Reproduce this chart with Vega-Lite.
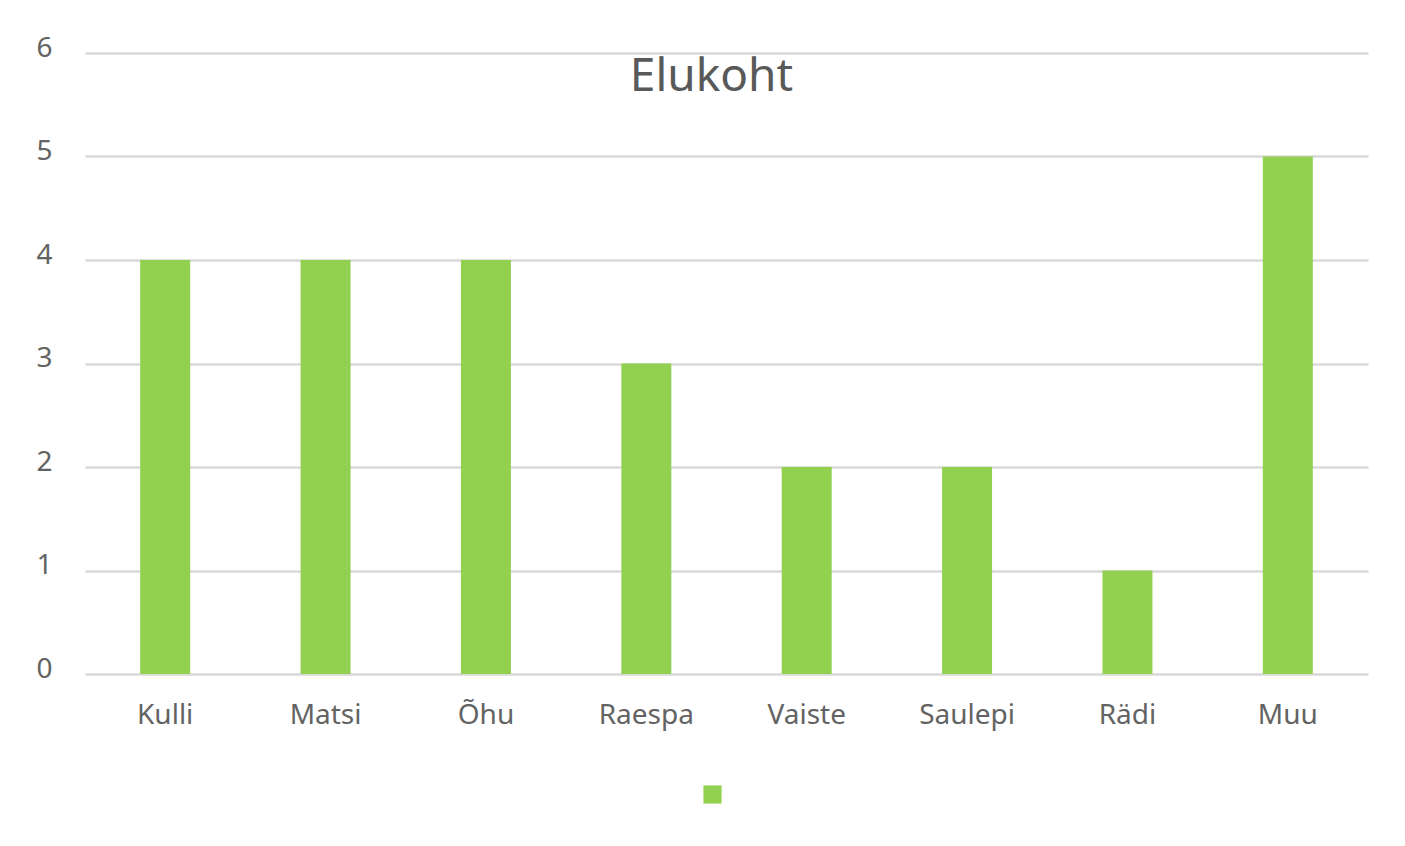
{
  "$schema": "https://vega.github.io/schema/vega-lite/v6.json",
  "width": 1283,
  "height": 621,
  "autosize": {"type": "none"},
  "padding": {"left": 85, "top": 53, "right": 37, "bottom": 172},
  "background": "white",
  "title": {
    "text": "Elukoht",
    "fontSize": 46,
    "font": "Noto Sans",
    "fontWeight": "normal",
    "color": "#595959",
    "anchor": "middle",
    "baseline": "top",
    "offset": -67,
    "dx": -15
  },
  "data": {
    "values": [
      {"koht": "Kulli", "arv": 4, "seeria": ""},
      {"koht": "Matsi", "arv": 4, "seeria": ""},
      {"koht": "Õhu", "arv": 4, "seeria": ""},
      {"koht": "Raespa", "arv": 3, "seeria": ""},
      {"koht": "Vaiste", "arv": 2, "seeria": ""},
      {"koht": "Saulepi", "arv": 2, "seeria": ""},
      {"koht": "Rädi", "arv": 1, "seeria": ""},
      {"koht": "Muu", "arv": 5, "seeria": ""}
    ]
  },
  "mark": {"type": "bar", "size": 50},
  "encoding": {
    "x": {
      "field": "koht",
      "type": "nominal",
      "sort": null,
      "scale": {"paddingInner": 0, "paddingOuter": 0},
      "axis": {
        "title": null,
        "labelAngle": 0,
        "domain": false,
        "ticks": false,
        "labelFont": "Noto Sans",
        "labelFontSize": 28,
        "labelColor": "#636363",
        "labelPadding": 27
      }
    },
    "y": {
      "field": "arv",
      "type": "quantitative",
      "scale": {"domain": [0, 6]},
      "axis": {
        "title": null,
        "values": [0, 1, 2, 3, 4, 5, 6],
        "domain": false,
        "ticks": false,
        "gridColor": "#D9D9D9",
        "gridWidth": 2.5,
        "labelFont": "Noto Sans",
        "labelFontSize": 28,
        "labelColor": "#636363",
        "labelPadding": 33,
        "labelOffset": -5
      }
    },
    "color": {
      "field": "seeria",
      "type": "nominal",
      "scale": {"range": ["#92D050"]},
      "legend": {
        "title": null,
        "orient": "none",
        "legendX": 618,
        "legendY": 732,
        "symbolType": "square",
        "symbolSize": 330,
        "symbolStrokeWidth": 0,
        "labelFontSize": 1,
        "padding": 0
      }
    }
  },
  "config": {"view": {"stroke": null}}
}
